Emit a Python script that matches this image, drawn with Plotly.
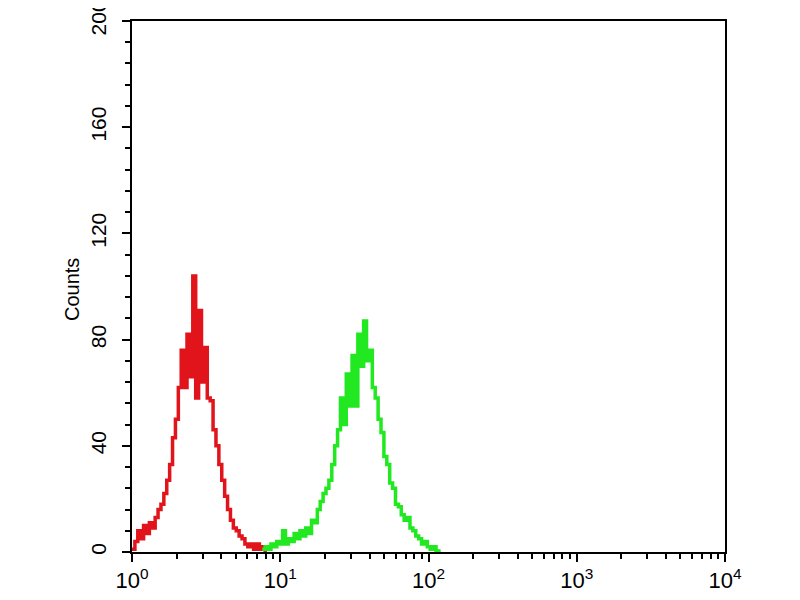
import plotly.graph_objects as go

# histogram channels: 1024 channels over 4 decades (256 per decade)
red_channel = [0, 5, 10, 15, 20, 25, 30, 35, 40, 45, 50, 55, 60, 65, 70, 75, 80, 85, 90, 95,
               100, 105, 110, 115, 120, 125, 130, 135, 140, 145, 150, 155, 160, 165, 170, 175,
               180, 185, 190, 195, 200, 205, 210, 215, 220, 225, 230]
red_counts = [1, 4, 8, 5, 10, 7, 11, 9, 13, 16, 18, 22, 27, 33, 43, 50, 62, 76, 62, 82,
              66, 104, 58, 91, 64, 77, 58, 57, 46, 40, 33, 27, 21, 16, 12, 9,
              8, 6, 5, 3, 2, 3, 1, 3, 1, 2, 0]

green_channel = [225, 230, 235, 240, 245, 250, 255, 260, 265, 270, 275, 280, 285, 290, 295,
                 300, 305, 310, 315, 320, 325, 330, 335, 340, 345, 350, 355, 360, 365, 370,
                 375, 380, 385, 390, 395, 400, 405, 410, 415, 420, 425, 430, 435, 440, 445,
                 450, 455, 460, 465, 470, 475, 480, 485, 490, 495, 500, 505, 510, 515, 520,
                 525, 530]
green_counts = [1, 2, 1, 3, 2, 4, 3, 8, 3, 5, 4, 7, 5, 8, 6,
                9, 7, 12, 11, 16, 19, 22, 24, 27, 33, 40, 46, 58, 48, 67,
                55, 74, 55, 82, 70, 87, 72, 76, 62, 58, 50, 45, 36, 33, 26,
                24, 18, 17, 14, 12, 13, 9, 8, 6, 5, 3, 4, 2, 1, 2,
                0, 1]

x_tickvals = [1, 10, 100, 1000, 10000]
x_ticktext = ["10<sup>0</sup>", "10<sup>1</sup>", "10<sup>2</sup>", "10<sup>3</sup>", "10<sup>4</sup>"]
y_tickvals = [0, 40, 80, 120, 160, 200]

red_x = [10 ** (c / 256) for c in red_channel]
green_x = [10 ** (c / 256) for c in green_channel]

fig = go.Figure()
fig.add_trace(go.Scatter(x=red_x, y=red_counts, mode="lines", line_shape="hv",
                         line=dict(color="#e0141a", width=3.5), showlegend=False))
fig.add_trace(go.Scatter(x=green_x, y=green_counts, mode="lines", line_shape="hv",
                         line=dict(color="#22e822", width=3.5), showlegend=False))

minor_x = [m * 10 ** k for k in range(4) for m in range(2, 10)]

# page body adds an 8px offset, margins are compensated for it
fig.update_layout(
    width=800, height=600,
    margin=dict(l=124, r=83, t=13, b=56),
    paper_bgcolor="white", plot_bgcolor="white",
    font=dict(family="Liberation Sans, Arial", size=21, color="black"),
    xaxis=dict(type="log", range=[0, 4], tickvals=x_tickvals, ticktext=x_ticktext,
               ticks="outside", ticklen=8, tickwidth=2, tickcolor="black",
               showline=True, linecolor="black", linewidth=2, mirror=True,
               showgrid=False, zeroline=False, automargin=False,
               tickfont=dict(size=22), ticklabeloverflow="allow",
               minor=dict(tickvals=minor_x, ticks="outside", ticklen=5, tickwidth=1.5,
                          tickcolor="black", showgrid=False)),
    yaxis=dict(range=[0, 200], tickvals=y_tickvals, tickangle=-90,
               ticks="outside", ticklen=8, tickwidth=2, tickcolor="black",
               showline=True, linecolor="black", linewidth=2, mirror=True,
               showgrid=False, zeroline=False, automargin=False,
               ticklabelstandoff=8, ticklabeloverflow="allow",
               minor=dict(dtick=8, ticks="outside", ticklen=5, tickwidth=1.5,
                          tickcolor="black", showgrid=False)),
)

# "Counts" title centred at about x=72, y=290 on the page
fig.add_annotation(text="Counts", textangle=-90, showarrow=False,
                   xref="paper", yref="paper",
                   x=(72 - 132) / 593, y=(552 - 290) / 531,
                   xanchor="center", yanchor="middle", font=dict(size=20))

fig.write_html("out.html")
